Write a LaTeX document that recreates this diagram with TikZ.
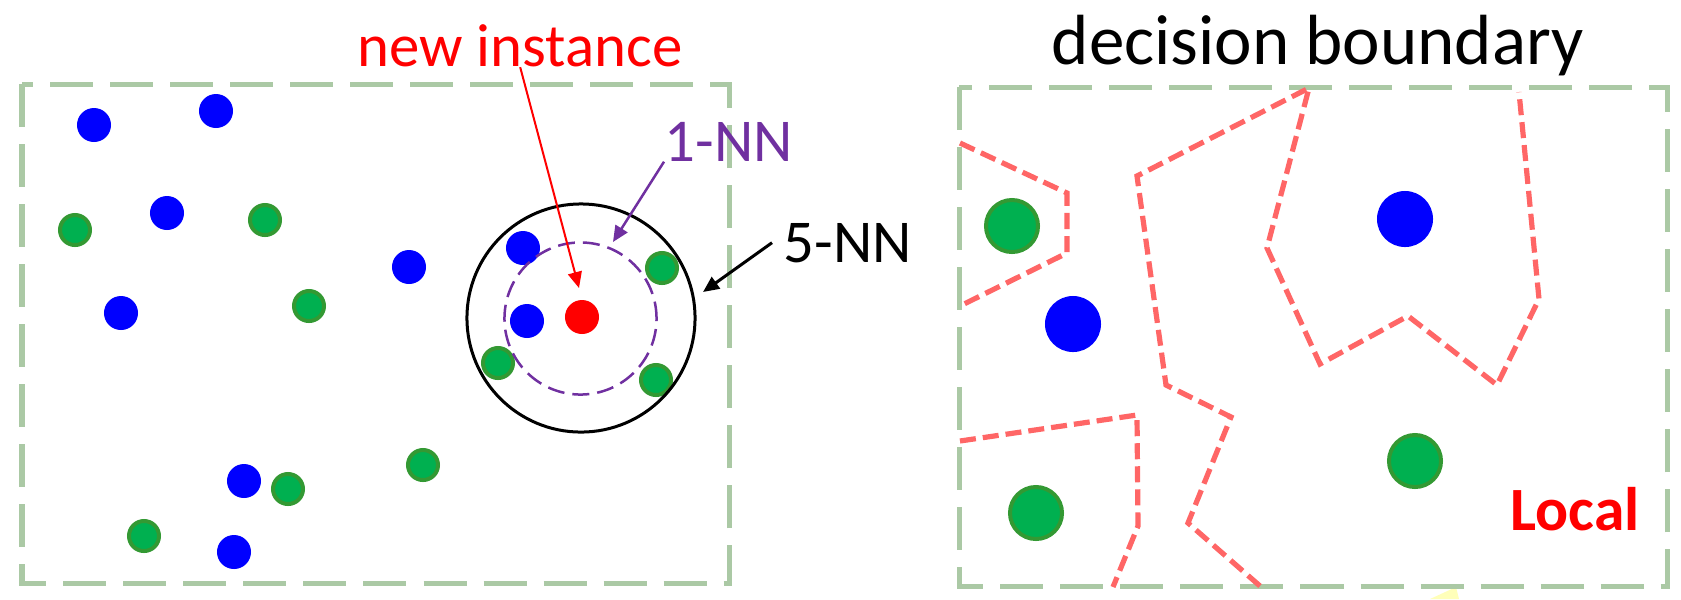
\documentclass[tikz,border=0pt]{standalone}
\usepackage{fontspec}
\setmainfont{Carlito}
\usetikzlibrary{arrows.meta}
\definecolor{boxgreen}{RGB}{171,201,165}
\definecolor{dotgreen}{RGB}{0,176,80}
\definecolor{ringgreen}{RGB}{51,153,51}
\definecolor{nnpurple}{RGB}{112,48,160}
\definecolor{bndred}{RGB}{255,102,102}
\definecolor{paleyellow}{RGB}{255,255,185}
\tikzset{
  dashframe/.style={boxgreen,line width=0.05cm,dash pattern=on 0.43cm off 0.17cm},
  bnd/.style={bndred,line width=0.052cm,dash pattern=on 0.16cm off 0.07cm},
  bluedot/.style={circle,fill=blue,inner sep=0pt,minimum size=#1},
  greendot/.style={circle,fill=dotgreen,draw=ringgreen,line width=0.04cm,inner sep=0pt,minimum size=#1},
  lbl/.style={anchor=base west,inner sep=0pt,font=\fontsize{17.3pt}{20pt}\selectfont},
  tip/.style={-{Triangle[length=0.16cm,width=0.14cm]}}
}
\begin{document}
\begin{tikzpicture}[x=0.01cm,y=-0.01cm]
        % escala: 1 px = 0.01 cm, y para baixo
        \useasboundingbox (0,0) rectangle (1681,599);
        \fill[paleyellow] (1456,587) -- (1459,599) -- (1430,599) -- cycle;
        \draw[dashframe] (22,84) rectangle (729,583);
        \draw[dashframe] (959,87) rectangle (1667,586);
        % pontos do conjunto de treino
        \foreach \x/\y [count=\i] in {94/125,216/111,167/213,121/313,409/267,244/481,234/552,523/248,527/321}{
            \node[bluedot=0.34cm] (b\i) at (\x,\y) {};
        }
        \foreach \x/\y [count=\i] in {75/230,265/220,309/306,423/465,288/489,144/536,662/268,498/363,656/380}{
            \node[greendot=0.30cm] (g\i) at (\x,\y) {};
        }
        \node[circle,fill=red,inner sep=0pt,minimum size=0.34cm] (query) at (582,317) {};
        \node[circle,draw=nnpurple,line width=0.025cm,dash pattern=on 0.17cm off 0.08cm,minimum size=1.52cm] (knn1) at (580.5,318.5) {};
        \node[circle,draw,line width=0.03cm,minimum size=2.28cm] (knn5) at (581,318) {};
        \node[lbl,text=red] (newlbl) at (357,66) {new instance};
        \node[lbl,text=nnpurple] (nn1) at (664,161) {1-NN};
        \node[lbl,inner xsep=0.11cm] (nn5) at (772,262) {5-NN};
        \coordinate (qtip) at (579,288);
        \coordinate (nn1tip) at (613,242);
        \coordinate (nn5tip) at (703,292);
        \draw[tip,red,line width=0.02cm] (newlbl.south) -- (qtip);
        \draw[tip,nnpurple,line width=0.025cm] (nn1.south west) -- (nn1tip);
        \draw[tip,line width=0.03cm] (nn5.west) -- (nn5tip);
        % fronteiras de decisao
        \draw[bnd] (960,143) -- (1067,193) -- (1067,253) -- (960,306);
        \draw[bnd] (1260,586) -- (1188,523) -- (1231,417) -- (1166,385) -- (1137,176) -- (1309,88)
            -- (1267,248) -- (1320,364) -- (1408,316) -- (1497,385) -- (1539,299) -- (1519,92);
        \draw[bnd] (960,441) -- (1137,415) -- (1138,526) -- (1113,587);
        \foreach \x/\y/\n in {1012/226/r1,1036/513/r2,1415/461/r3}{
            \node[greendot=0.52cm] (\n) at (\x,\y) {};
        }
        \node[bluedot=0.56cm] (r4) at (1073,324) {};
        \node[bluedot=0.56cm] (r5) at (1405,219) {};
        \node[lbl,font=\fontsize{20.2pt}{24pt}\selectfont] (title) at (1051,64) {decision boundary};
        \node[lbl,text=red,font=\bfseries\fontsize{17.5pt}{20pt}\selectfont] (local) at (1510,530) {Local};
    \end{tikzpicture}
\end{document}
